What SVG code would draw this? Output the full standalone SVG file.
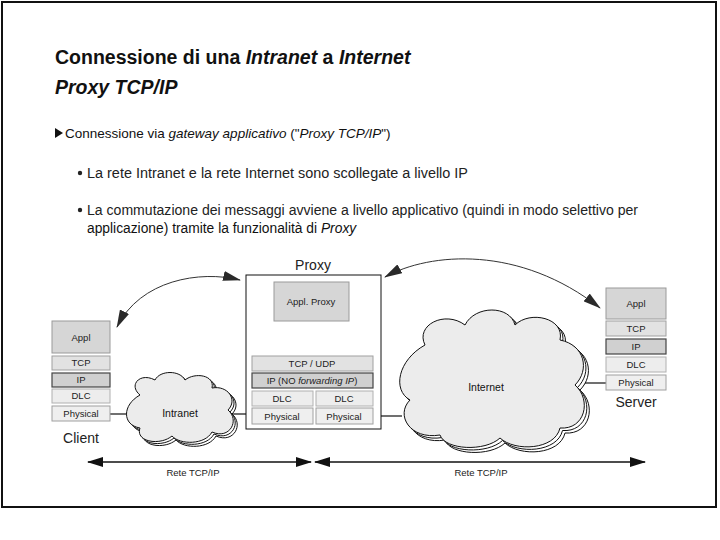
<svg xmlns="http://www.w3.org/2000/svg" width="720" height="540" viewBox="0 0 720 540">
<defs>
<style>
text{font-family:"Liberation Sans",Arial,sans-serif;fill:#111}
.title{font-size:19.5px;font-weight:bold}
.body{font-size:14px;fill:#222}
.lbl{font-size:9.5px;text-anchor:middle;fill:#222}
.big{font-size:14px;text-anchor:middle;fill:#222}
.appl{fill:#d6d6d6;stroke:#9a9a9a;stroke-width:1}
.tcp{fill:#e2e2e2;stroke:#a0a0a0;stroke-width:1}
.ip{fill:#d0d0d0;stroke:#444;stroke-width:1.2}
.dlc{fill:#ededed;stroke:#b0b0b0;stroke-width:1}
.phy{fill:#efefef;stroke:#a0a0a0;stroke-width:1}
.link{stroke:#111;stroke-width:1.2;fill:none}
.cloud{fill:#ececec;stroke:#111;stroke-width:1}
.cloudb{fill:#fff;stroke:#111;stroke-width:1}
.arc{stroke:#333;stroke-width:1;fill:none}
</style>
<marker id="bigHead" viewBox="0 0 18 10" refX="17" refY="5" markerWidth="18" markerHeight="10" markerUnits="userSpaceOnUse" orient="auto-start-reverse">
<path d="M0 0 L18 5 L0 10 Z" fill="#2a2a2a"/>
</marker>
<marker id="smHead" viewBox="0 0 12 8" refX="11" refY="4" markerWidth="12" markerHeight="8" markerUnits="userSpaceOnUse" orient="auto-start-reverse">
<path d="M0 0 L12 4 L0 8 Z" fill="#333"/>
</marker>
<marker id="lineHead" viewBox="0 0 16 10" refX="15" refY="5" markerWidth="16" markerHeight="10" markerUnits="userSpaceOnUse" orient="auto-start-reverse">
<path d="M0 0 L16 5 L0 10 Z" fill="#111"/>
</marker>
</defs>
<rect x="2" y="2" width="714" height="505" fill="#fff" stroke="#111" stroke-width="2"/>

<g id="title">
<text class="title" x="55" y="64" font-size="19.9">Connessione di una <tspan font-style="italic">Intranet</tspan> a <tspan font-style="italic">Internet</tspan></text>
<text class="title" x="55" y="94" font-style="italic">Proxy TCP/IP</text>
</g>

<g id="bullets">
<path d="M55 128 L63 133 L55 138 Z" fill="#111"/>
<text x="65" y="138" font-size="13.5" fill="#222">Connessione via <tspan font-style="italic">gateway applicativo</tspan> ("<tspan font-style="italic">Proxy TCP/IP</tspan>")</text>
<circle cx="80" cy="173" r="2.2" fill="#222"/>
<text class="body" x="87" y="178" textLength="381" lengthAdjust="spacingAndGlyphs">La rete Intranet e la rete Internet sono scollegate a livello IP</text>
<circle cx="80" cy="210" r="2.2" fill="#222"/>
<text class="body" x="87" y="215" textLength="551" lengthAdjust="spacingAndGlyphs">La commutazione dei messaggi avviene a livello applicativo (quindi in modo selettivo per</text>
<text x="87" y="233" font-size="13.8" fill="#222">applicazione) tramite la funzionalità di <tspan font-style="italic">Proxy</tspan></text>
</g>

<g id="connectors">
<line class="link" x1="110" y1="414" x2="130" y2="414"/>
<line class="link" x1="232" y1="414" x2="252" y2="414"/>
<line class="link" x1="373" y1="416" x2="402" y2="416"/>
<line class="link" x1="578" y1="383" x2="606" y2="383"/>
<path class="arc" d="M117 327 C140 280 200 270 240 280" marker-start="url(#bigHead)" marker-end="url(#bigHead)"/>
<path class="arc" d="M385 277 C430 252 520 245 600 308" marker-start="url(#bigHead)" marker-end="url(#bigHead)"/>
<line x1="278" y1="352" x2="297" y2="326" stroke="#333" stroke-width="1" marker-end="url(#smHead)"/>
<line x1="327" y1="326" x2="345" y2="352" stroke="#333" stroke-width="1" marker-end="url(#smHead)"/>
<line x1="88" y1="462" x2="311" y2="462" stroke="#111" stroke-width="1.3" marker-start="url(#lineHead)" marker-end="url(#lineHead)"/>
<line x1="315" y1="462" x2="645" y2="462" stroke="#111" stroke-width="1.3" marker-start="url(#lineHead)" marker-end="url(#lineHead)"/>
<text class="lbl" x="193" y="476">Rete TCP/IP</text>
<text class="lbl" x="481" y="476">Rete TCP/IP</text>
</g>

<g id="client">
<rect class="appl" x="52" y="321" width="58" height="32"/>
<text class="lbl" x="81" y="341" font-size="10">Appl</text>
<rect class="tcp" x="52" y="356" width="58" height="14"/>
<text class="lbl" x="81" y="366">TCP</text>
<rect class="ip" x="52" y="373" width="58" height="14"/>
<text class="lbl" x="81" y="383">IP</text>
<rect class="dlc" x="52" y="389" width="58" height="14"/>
<text class="lbl" x="81" y="399">DLC</text>
<rect class="phy" x="52" y="406" width="58" height="15"/>
<text class="lbl" x="81" y="417">Physical</text>
<text class="big" x="81" y="443">Client</text>
</g>

<g id="intranet">
<g transform="translate(4,4)"><path class="cloudb" d="M140 395 C128 385 140 372 155 380 C160 370 180 370 185 380 C195 372 215 375 212 388 C228 385 238 400 228 410 C240 420 230 440 212 432 C205 445 180 445 172 436 C160 446 135 442 140 428 C122 425 122 405 140 395 Z"/></g>
<g transform="translate(2,2)"><path class="cloudb" d="M140 395 C128 385 140 372 155 380 C160 370 180 370 185 380 C195 372 215 375 212 388 C228 385 238 400 228 410 C240 420 230 440 212 432 C205 445 180 445 172 436 C160 446 135 442 140 428 C122 425 122 405 140 395 Z"/></g>
<path class="cloud" d="M140 395 C128 385 140 372 155 380 C160 370 180 370 185 380 C195 372 215 375 212 388 C228 385 238 400 228 410 C240 420 230 440 212 432 C205 445 180 445 172 436 C160 446 135 442 140 428 C122 425 122 405 140 395 Z"/>
<text x="180" y="417" font-size="10.5" text-anchor="middle" fill="#222">Intranet</text>
</g>

<g id="proxy">
<rect x="246" y="275" width="135" height="154" fill="#fff" stroke="#111" stroke-width="1"/>
<text class="big" x="313" y="270">Proxy</text>
<rect class="appl" x="274" y="282" width="75" height="39"/>
<text class="lbl" x="311" y="305">Appl. Proxy</text>
<rect class="tcp" x="252" y="356" width="121" height="15"/>
<text class="lbl" x="312" y="367">TCP / UDP</text>
<rect class="ip" x="252" y="373" width="121" height="15"/>
<text class="lbl" x="312" y="384">IP (NO <tspan font-style="italic">forwarding IP</tspan>)</text>
<rect class="dlc" x="252" y="391" width="61" height="15"/>
<text class="lbl" x="282" y="402">DLC</text>
<rect class="dlc" x="316" y="391" width="57" height="15"/>
<text class="lbl" x="344" y="402">DLC</text>
<rect class="phy" x="252" y="408" width="61" height="16"/>
<text class="lbl" x="282" y="420">Physical</text>
<rect class="phy" x="316" y="408" width="57" height="16"/>
<text class="lbl" x="344" y="420">Physical</text>
</g>

<g id="internet">
<g transform="translate(5,5)"><path class="cloudb" d="M425 345 C415 325 445 310 465 325 C475 305 510 305 515 325 C530 310 565 318 560 340 C585 345 590 370 575 385 C592 400 585 430 560 428 C555 450 515 452 500 438 C485 452 445 450 440 435 C410 440 395 415 410 400 C392 390 398 360 425 345 Z"/></g>
<g transform="translate(2.5,2.5)"><path class="cloudb" d="M425 345 C415 325 445 310 465 325 C475 305 510 305 515 325 C530 310 565 318 560 340 C585 345 590 370 575 385 C592 400 585 430 560 428 C555 450 515 452 500 438 C485 452 445 450 440 435 C410 440 395 415 410 400 C392 390 398 360 425 345 Z"/></g>
<path class="cloud" d="M425 345 C415 325 445 310 465 325 C475 305 510 305 515 325 C530 310 565 318 560 340 C585 345 590 370 575 385 C592 400 585 430 560 428 C555 450 515 452 500 438 C485 452 445 450 440 435 C410 440 395 415 410 400 C392 390 398 360 425 345 Z"/>
<text x="486" y="391" font-size="10.5" text-anchor="middle" fill="#222">Internet</text>
</g>

<g id="server">
<rect class="appl" x="606" y="288" width="60" height="31"/>
<text class="lbl" x="636" y="307" font-size="10">Appl</text>
<rect class="tcp" x="606" y="321" width="60" height="15"/>
<text class="lbl" x="636" y="332">TCP</text>
<rect class="ip" x="606" y="339" width="60" height="15"/>
<text class="lbl" x="636" y="350">IP</text>
<rect class="dlc" x="606" y="357" width="60" height="15"/>
<text class="lbl" x="636" y="368">DLC</text>
<rect class="phy" x="606" y="375" width="60" height="15"/>
<text class="lbl" x="636" y="386">Physical</text>
<text class="big" x="636" y="407">Server</text>
</g>
</svg>
